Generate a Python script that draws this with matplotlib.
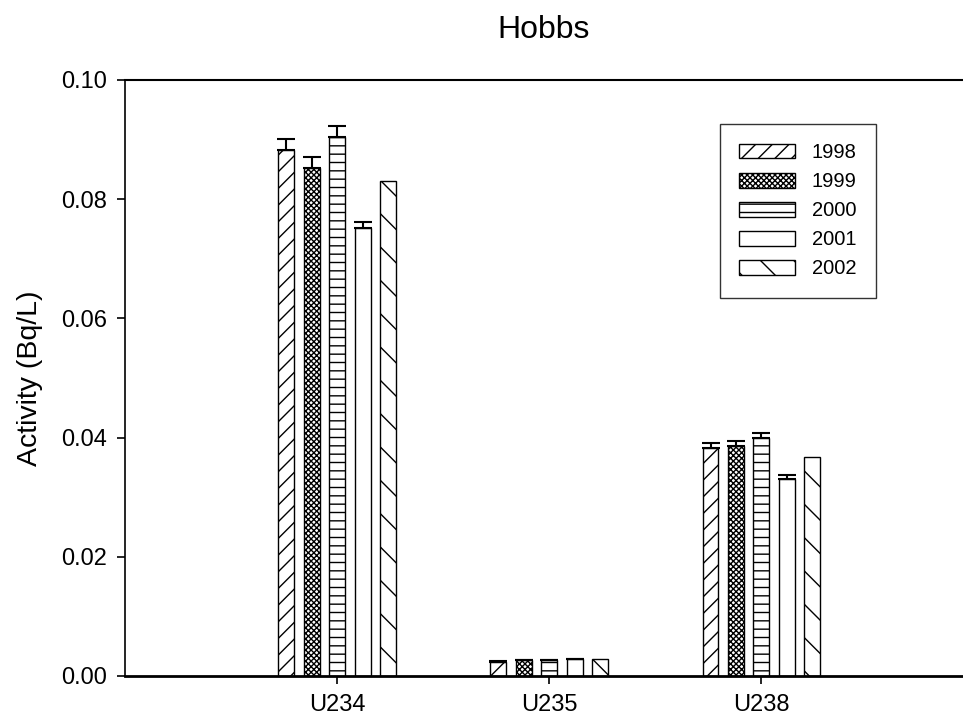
import matplotlib
matplotlib.use("Agg")
import matplotlib.pyplot as plt
import numpy as np

plt.rcParams['font.family'] = ['Liberation Sans', 'DejaVu Sans']
plt.rcParams['hatch.linewidth'] = 1.0

# isotopes on the x axis, one bar per sampling year
isotopes = ['U234', 'U235', 'U238']
years = ['1998', '1999', '2000', '2001', '2002']

act_1998 = [0.0883, 0.0024, 0.0382]
act_1999 = [0.0853, 0.0026, 0.0386]
act_2000 = [0.0905, 0.0026, 0.0399]
act_2001 = [0.0751, 0.0028, 0.0331]
act_2002 = [0.0831, 0.0028, 0.0367]

err_1998 = [0.0018, 0.0001, 0.0009]
err_1999 = [0.0018, 0.0001, 0.0009]
err_2000 = [0.0017, 0.0001, 0.0009]
err_2001 = [0.0011, 0.0001, 0.0006]
err_2002 = [0.0, 0.0, 0.0]

values = [act_1998, act_1999, act_2000, act_2001, act_2002]
errors = [err_1998, err_1999, err_2000, err_2001, err_2002]
hatches = ['//', 'xxxxxx', '--', '', '\\']

fig = plt.figure(figsize=(9.63, 7.25), dpi=100)
ax = fig.add_axes([0.1298, 0.0676, 0.8702, 0.8221])

x = np.arange(1, len(isotopes) + 1)
step = 0.12
width = 0.075

for i, (yr, v, e, h) in enumerate(zip(years, values, errors, hatches)):
    pos = x + (i - 2) * step
    ax.bar(pos, v, width, color='white', edgecolor='black', linewidth=1.0,
           hatch=h, label=yr, zorder=2)
    e = np.array(e)
    has = e > 0
    if has.any():
        # upper half of the error bar only
        ax.errorbar(pos[has], np.array(v)[has],
                    yerr=[np.zeros(has.sum()), e[has]],
                    fmt='none', ecolor='black', elinewidth=1.5,
                    capsize=6.5, capthick=1.5, zorder=3)

ax.set_xlim(0, 3.95)
ax.set_ylim(0, 0.1)
ax.set_xticks(x)
ax.set_xticklabels(isotopes)
ax.set_yticks(np.arange(0, 0.101, 0.02))
ax.yaxis.set_major_formatter(matplotlib.ticker.FormatStrFormatter('%.2f'))
ax.tick_params(direction='out', length=6, width=1.2, labelsize=17, pad=7)

ax.spines['right'].set_visible(False)
ax.spines['left'].set_linewidth(1.2)
ax.spines['top'].set_linewidth(1.5)
ax.spines['bottom'].set_linewidth(2.0)

ax.set_ylabel('Activity (Bq/L)', fontsize=20.5, labelpad=13)
ax.set_title('Hobbs', fontsize=23, pad=30)

leg = ax.legend(loc='upper left', bbox_to_anchor=(720 / 963, 1 - 124 / 725),
                bbox_transform=fig.transFigure, fontsize=14.5,
                handlelength=2.75, handleheight=0.75, handletextpad=0.85,
                labelspacing=0.5, borderpad=0.95, borderaxespad=0,
                fancybox=False, frameon=True, edgecolor='black')
leg.get_frame().set_linewidth(1.0)

fig.savefig('out.png', dpi=100)
